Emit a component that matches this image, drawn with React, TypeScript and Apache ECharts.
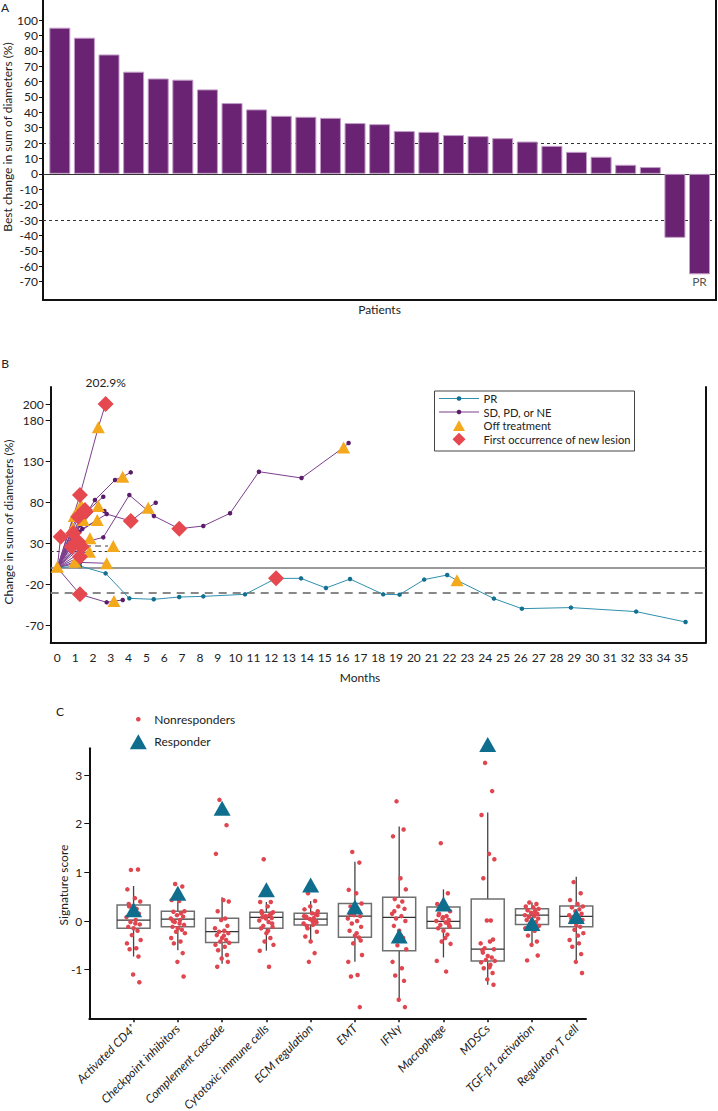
import React, { useEffect, useRef } from "react";
import * as echarts from "echarts";

const FONT = "Lato, 'Noto Sans', 'DejaVu Sans', sans-serif";
const TXT = "#222";

// ---------- Panel A: best change per patient ----------
const bestChange = [95.0, 88.5, 77.6, 66.4, 62.0, 61.2, 54.9, 46.0, 41.9, 37.7, 37.1, 36.4, 33.0, 32.3, 27.8, 27.3, 25.2, 24.5, 23.2, 21.0, 18.2, 14.3, 11.1, 5.9, 4.4, -41.6, -65.3];
const bestChangeTicks = [-70, -60, -50, -40, -30, -20, -10, 0, 10, 20, 30, 40, 50, 60, 70, 80, 90, 100];
const thresholdsA = [20, -30];
const lastBarLabel = "PR";

// ---------- Panel B: change over time ----------
const monthTicks = [0, 1, 2, 3, 4, 5, 6, 7, 8, 9, 10, 11, 12, 13, 14, 15, 16, 17, 18, 19, 20, 21, 22, 23, 24, 25, 26, 27, 28, 29, 30, 31, 32, 33, 34, 35];
const changeTicks = [-70, -20, 30, 80, 130, 180, 200];
const topClippedLabel = "202.9%";

const prPatient = [
  [0, 0], [1.27, 2.1], [2.71, -6.9], [4.04, -37.4], [5.41, -38.6], [6.84, -35.8], [8.19, -35.0], [10.53, -32.5],
  [12.27, -13.0], [13.67, -13.0], [15.07, -24.8], [16.42, -13.8], [18.28, -32.5], [19.2, -32.9], [20.58, -14.5],
  [21.87, -8.9], [22.42, -15.4], [24.49, -37.7], [26.06, -50.0], [28.81, -48.7], [32.47, -53.6], [35.24, -66.3],
];

const sdPatients = [
  [[0, 0], [1.27, 88.8], [2.3, 171.5], [2.71, 200]],
  [[0, 0], [1.35, 56], [2.11, 82.7], [3.24, 107.2], [3.67, 111.2], [4.12, 116.5]],
  [[0, 0], [1.3, 62], [2.58, 86.8]],
  [[0, 0], [1.3, 30], [2.58, 37.1], [4.04, 88.8], [5.42, 63.2], [6.84, 47.6], [8.19, 51], [9.69, 66.5], [11.31, 117.3], [13.7, 109.6], [16.06, 147], [16.34, 152.3]],
  [[0, 0], [1.4, 47.3], [2.77, 65.6], [4.12, 57], [5.1, 73.3], [5.52, 79.4]],
  [[0, 0], [1.59, 68.4], [2.64, 69.3]],
  [[0, 0], [1.33, 76.6]],
  [[0, 0], [1.3, 52], [2.3, 75.4]],
  [[0, 0], [1.25, 44], [2.24, 58.3]],
  [[0, 0], [0.95, 63.2]],
  [[0, 0], [1.18, 62.3]],
  [[0, 0], [1.27, 28], [1.83, 35.9]],
  [[0, 0], [1.27, 18], [1.8, 19.5]],
  [[0, 0], [0.19, 37.9]],
  [[0, 0], [0.9, 42]],
  [[0, 0], [0.81, 25.7]],
  [[0, 0], [1.18, 31.8]],
  [[0, 0], [1.37, 25.7]],
  [[0, 0], [1.27, 13.4]],
  [[0, 0], [1.27, 6.5], [2.77, 5.4]],
  [[0, 0], [1.27, -32.5], [2.77, -42.3], [3.18, -40.7], [3.67, -39.5]],
  [[0, 0], [0.86, 48.1]],
  [[0, 0], [0.99, 7.3]],
  [[0, 0], [1.46, 58.3]],
  [[0, 0], [1.55, 70.4]],
];
const shortDashed = [[1.56, 26.5], [2.84, 26.5]];

const offTreatment = [
  [0, 1.2], [0.86, 48.1], [0.95, 63.2], [0.99, 7.3], [1.33, 76.6], [1.46, 58.3], [1.8, 19.5], [1.83, 35.9],
  [2.24, 58.3], [2.3, 75.4], [2.3, 171.5], [2.77, 5.4], [3.14, 26.5], [3.18, -40.7], [3.67, 111.2], [5.1, 73.3],
  [16.06, 147], [22.42, -15.4],
];
const newLesion = [
  [0.19, 37.9], [0.81, 25.7], [0.9, 42], [1.18, 31.8], [1.18, 62.3], [1.27, 13.4], [1.27, 88.8], [1.27, -32.5],
  [1.37, 25.7], [1.55, 70.4], [1.59, 68.4], [2.71, 200], [4.12, 57], [6.84, 47.6], [12.27, -13],
];
const thresholdsB = { zero: 0, pd: 20, pr: -30 };

// ---------- Panel C: signature scores ----------
const signatures = ["Activated CD4\u207A", "Checkpoint inhibitors", "Complement cascade", "Cytotoxic immune cells", "ECM regulation", "EMT", "IFN\u03B3", "Macrophage", "MDSCs", "TGF-\u03B21 activation", "Regulatory T cell"];
const scoreTicks = [-1, 0, 1, 2, 3];
// [lower whisker, Q1, median, Q3, upper whisker]
const boxStats = [
  [-0.73, -0.15, 0.02, 0.33, 0.72],
  [-0.6, -0.12, 0.04, 0.2, 0.43],
  [-0.88, -0.44, -0.22, 0.055, 0.49],
  [-0.61, -0.15, 0.075, 0.18, 0.39],
  [-0.42, -0.08, 0.04, 0.16, 0.41],
  [-0.84, -0.335, 0.1, 0.36, 1.22],
  [-1.62, -0.61, 0.075, 0.49, 1.94],
  [-0.75, -0.15, -0.006, 0.29, 0.65],
  [-1.31, -0.82, -0.58, 0.45, 2.23],
  [-0.49, -0.07, 0.12, 0.25, 0.38],
  [-0.84, -0.12, 0.097, 0.31, 0.91],
];
const responder = [0.23, 0.57, 2.32, 0.64, 0.74, 0.29, -0.31, 0.35, 3.63, -0.05, 0.09];
const nonresponders = [
  [1.05, 1.06, 0.65, 0.47, 0.4, 0.3, 0.25, 0.2, 0.15, 0.08, 0.02, -0.02, -0.07, -0.12, -0.15, -0.2, -0.29, -0.39, -0.46, -0.56, -0.58, -0.73, -1.1, -1.26, 0.35, -0.05],
  [0.76, 0.71, 0.43, 0.41, 0.2, 0.19, 0.16, 0.12, 0.09, 0.05, 0.02, -0.02, -0.08, -0.12, -0.15, -0.18, -0.22, -0.25, -0.35, -0.42, -0.46, -0.66, -0.84, -1.14, 0.0, -0.05],
  [2.49, 1.97, 1.38, 0.43, 0.4, 0.2, 0.05, 0.02, -0.1, -0.15, -0.2, -0.22, -0.25, -0.29, -0.35, -0.39, -0.42, -0.45, -0.49, -0.53, -0.6, -0.7, -0.77, -0.84, -0.94, -0.3],
  [1.27, 0.39, 0.39, 0.3, 0.18, 0.16, 0.12, 0.1, 0.06, 0.01, -0.02, -0.1, -0.12, -0.15, -0.25, -0.35, -0.42, -0.49, -0.61, -0.94, 0.08, 0.15, 0.05, -0.05, 0.2, -0.2],
  [0.57, 0.41, 0.24, 0.16, 0.12, 0.09, 0.06, 0.04, -0.01, -0.05, -0.08, -0.15, -0.22, -0.32, -0.42, -0.66, -0.84, 0.2, 0.1, 0.02, -0.1, 0.14, 0.3, -0.03, 0.07, 0.0],
  [1.42, 1.2, 0.64, 0.57, 0.36, 0.3, 0.2, 0.12, 0.1, 0.05, 0.0, -0.05, -0.12, -0.2, -0.3, -0.34, -0.46, -0.7, -0.84, -1.11, -1.14, -1.77, 0.25, -0.4, 0.15, -0.25],
  [2.46, 1.88, 1.74, 0.88, 0.65, 0.45, 0.4, 0.3, 0.25, 0.15, 0.1, 0.05, 0.0, -0.1, -0.2, -0.35, -0.5, -0.58, -0.84, -0.97, -1.12, -1.23, -1.62, -1.77, 0.2, -0.3],
  [1.6, 0.57, 0.35, 0.3, 0.2, 0.15, 0.1, 0.05, 0.02, 0.0, -0.03, -0.08, -0.12, -0.15, -0.2, -0.28, -0.42, -0.47, -0.82, -1.04, 0.25, -0.05, 0.08, -0.1, 0.12, -0.35],
  [3.25, 2.67, 2.18, 1.38, 1.27, 0.88, 0.01, 0.01, -0.38, -0.46, -0.42, -0.56, -0.58, -0.6, -0.72, -0.75, -0.8, -0.82, -0.85, -0.9, -0.97, -1.07, -1.2, -1.31, -0.65, -0.95],
  [0.38, 0.35, 0.3, 0.28, 0.25, 0.22, 0.2, 0.17, 0.15, 0.12, 0.1, 0.08, 0.05, 0.02, 0.0, -0.02, -0.05, -0.1, -0.15, -0.2, -0.3, -0.42, -0.49, -0.71, -0.81, 0.13],
  [0.8, 0.57, 0.43, 0.35, 0.3, 0.28, 0.24, 0.2, 0.15, 0.12, 0.1, 0.08, 0.02, -0.02, -0.08, -0.12, -0.18, -0.25, -0.39, -0.46, -0.53, -0.68, -0.84, -1.07, 0.05, -0.3],
];
// fixed horizontal jitter pattern (category units) for the dot strip
const JITTER = [-0.06, 0.1, -0.14, 0.03, 0.15, -0.1, 0.07, -0.02, 0.12, -0.16, 0.05, -0.07, 0.14, -0.12, 0.0, 0.09, -0.04, 0.16, -0.15, 0.06, -0.09, 0.11, -0.01, 0.13, -0.11, 0.04];

// ---------- colours ----------
const BAR = "#6a2372";
const PURPLE_LINE = "#7b3f8d";
const PURPLE_DOT = "#5b1d6b";
const TEAL_LINE = "#2f8fae";
const TEAL_DOT = "#137090";
const ORANGE = "#f4a81c";
const RED = "#e5484f";
const DOT_RED = "#e0464f";
const RESP = "#0f6d8e";

const axisLine = { show: true, onZero: false, lineStyle: { color: "#111", width: 2 } };
const labelStyle = { fontFamily: FONT, fontSize: 12, color: TXT };

function txt(text: string, x: number, y: number, extra: any = {}) {
  return {
    type: "text",
    x,
    y,
    rotation: extra.rotation || 0,
    silent: true,
    style: {
      text,
      fill: TXT,
      fontSize: extra.fontSize || 12,
      fontFamily: FONT,
      align: extra.align || "center",
      verticalAlign: "middle",
    },
  };
}

function buildOption(): any {
  const catPositions = signatures.map((_, i) => i + 1);
  const frameRight = (gridIndex: number, min: number, max: number) => ({
    gridIndex,
    type: "value",
    position: "right",
    min,
    max,
    axisLine,
    axisTick: { show: false },
    axisLabel: { show: false },
    splitLine: { show: false },
  });

  const legendB = [
    { type: "rect", shape: { x: 434.5, y: 391, width: 200, height: 60 }, style: { fill: "#fff", stroke: "#444", lineWidth: 1 } },
    { type: "line", shape: { x1: 439, y1: 398.5, x2: 479, y2: 398.5 }, style: { stroke: TEAL_LINE, lineWidth: 1 } },
    { type: "circle", shape: { cx: 459, cy: 398.5, r: 2.3 }, style: { fill: TEAL_DOT } },
    { type: "line", shape: { x1: 439, y1: 412, x2: 479, y2: 412 }, style: { stroke: PURPLE_LINE, lineWidth: 1 } },
    { type: "circle", shape: { cx: 459, cy: 412, r: 2.3 }, style: { fill: PURPLE_DOT } },
    { type: "polygon", shape: { points: [[459, 420.2], [465, 431], [453, 431]] }, style: { fill: ORANGE } },
    { type: "polygon", shape: { points: [[459, 432.8], [465.5, 439.3], [459, 445.8], [452.5, 439.3]] }, style: { fill: RED } },
    txt("PR", 483.5, 398.5, { align: "left", fontSize: 11.2 }),
    txt("SD, PD, or NE", 483.5, 412, { align: "left", fontSize: 11.2 }),
    txt("Off treatment", 483.5, 425.7, { align: "left", fontSize: 11.2 }),
    txt("First occurrence of new lesion", 483.5, 439.3, { align: "left", fontSize: 11.2 }),
  ];

  const legendC = [
    { type: "circle", shape: { cx: 138.3, cy: 719.3, r: 2.3 }, style: { fill: DOT_RED } },
    txt("Nonresponders", 154.3, 719.3, { align: "left" }),
    { type: "polygon", shape: { points: [[138.3, 734.2], [146.8, 749.2], [129.8, 749.2]] }, style: { fill: RESP } },
    txt("Responder", 154.3, 741.7, { align: "left" }),
  ];

  return {
    animation: false,
    backgroundColor: "#fff",
    textStyle: { fontFamily: FONT },
    grid: [
      { left: 43, top: 0, width: 673, height: 300, outerBoundsMode: "none" },
      { left: 50.7, top: 387, width: 655, height: 255.7, outerBoundsMode: "none" },
      { left: 89.3, top: 748.3, width: 496.7, height: 270, outerBoundsMode: "none" },
    ],
    xAxis: [
      {
        gridIndex: 0, type: "value", min: 0.317, max: 27.67,
        axisLine, axisTick: { show: false }, axisLabel: { show: false }, splitLine: { show: false },
        name: "Patients", nameLocation: "middle", nameGap: 3,
        nameTextStyle: { ...labelStyle, verticalAlign: "top" },
      },
      {
        gridIndex: 1, type: "value", min: -0.37, max: 36.37,
        axisLine, axisTick: { show: false },
        axisLabel: { customValues: monthTicks, margin: 9, ...labelStyle },
        splitLine: { show: false },
      },
      {
        gridIndex: 2, type: "value", min: 0, max: 11.22,
        axisLine,
        axisTick: { show: true, customValues: catPositions, length: 4, lineStyle: { color: "#111", width: 1.5 } },
        axisLabel: {
          customValues: catPositions,
          formatter: (v: number) => signatures[Math.round(v) - 1] || "",
          rotate: 45, margin: 8, fontStyle: "italic", ...labelStyle,
        },
        splitLine: { show: false },
      },
    ],
    yAxis: [
      {
        gridIndex: 0, type: "value", min: -82, max: 113, axisLine,
        axisTick: { show: true, customValues: bestChangeTicks, length: 4, lineStyle: { color: "#111", width: 1 } },
        axisLabel: { customValues: bestChangeTicks, margin: 5, ...labelStyle },
        splitLine: { show: false },
      },
      frameRight(0, -82, 113),
      {
        gridIndex: 1, type: "value", min: -91.6, max: 220.8, axisLine,
        axisTick: { show: true, customValues: changeTicks, length: 5, lineStyle: { color: "#111", width: 1 } },
        axisLabel: { customValues: changeTicks, margin: 7, ...labelStyle },
        splitLine: { show: false },
      },
      frameRight(1, -91.6, 220.8),
      {
        gridIndex: 2, type: "value", min: -2.0, max: 3.55, axisLine,
        axisTick: { show: true, customValues: scoreTicks, length: 5, lineStyle: { color: "#111", width: 1 } },
        axisLabel: { customValues: scoreTicks, margin: 7, ...labelStyle },
        splitLine: { show: false },
      },
    ],
    series: [
      // ----- A -----
      {
        type: "bar", xAxisIndex: 0, yAxisIndex: 0,
        data: bestChange.map((v, i) => [i + 1, v]),
        barWidth: 21, z: 2,
        itemStyle: { color: BAR, borderColor: "#c29cc8", borderWidth: 1 },
        markLine: {
          silent: true, symbol: ["none", "none"], z: 1, label: { show: false },
          data: [
            { yAxis: 0, lineStyle: { type: "solid", color: "#333", width: 1 } },
            ...thresholdsA.map((t) => ({ yAxis: t, lineStyle: { type: [3, 3], color: "#333", width: 1 } })),
          ],
        },
      },
      {
        type: "scatter", xAxisIndex: 0, yAxisIndex: 0, silent: true,
        data: [[bestChange.length, bestChange[bestChange.length - 1]]],
        symbolSize: 0,
        label: { show: true, formatter: lastBarLabel, position: "bottom", distance: 1, ...labelStyle },
      },
      // ----- B -----
      {
        type: "line", xAxisIndex: 1, yAxisIndex: 2, data: prPatient, z: 3,
        symbol: "circle", symbolSize: 4.5, showAllSymbol: true,
        lineStyle: { color: TEAL_LINE, width: 1 }, itemStyle: { color: TEAL_DOT },
        markLine: {
          silent: true, symbol: ["none", "none"], z: 1, label: { show: false },
          data: [
            { yAxis: thresholdsB.zero, lineStyle: { type: "solid", color: "#777", width: 1.5 } },
            { yAxis: thresholdsB.pd, lineStyle: { type: [3, 3], color: "#333", width: 1.2 } },
            { yAxis: thresholdsB.pr, lineStyle: { type: [8, 6], color: "#888", width: 2 } },
          ],
        },
      },
      ...sdPatients.map((p) => ({
        type: "line", xAxisIndex: 1, yAxisIndex: 2, data: p, z: 2,
        symbol: "circle", symbolSize: 4.5, showAllSymbol: true,
        lineStyle: { color: PURPLE_LINE, width: 1 }, itemStyle: { color: PURPLE_DOT },
      })),
      {
        type: "line", xAxisIndex: 1, yAxisIndex: 2, data: shortDashed, symbol: "none", z: 2,
        lineStyle: { color: "#999", width: 2, type: [6, 4] },
      },
      {
        type: "scatter", xAxisIndex: 1, yAxisIndex: 2, data: offTreatment, z: 4,
        symbol: "triangle", symbolSize: [13, 12], itemStyle: { color: ORANGE, opacity: 1 },
      },
      {
        type: "scatter", xAxisIndex: 1, yAxisIndex: 2, z: 5, clip: false,
        symbol: "diamond", symbolSize: 16, itemStyle: { color: RED, opacity: 1 },
        data: newLesion.map((p) =>
          p[1] >= 200
            ? { value: p, label: { show: true, formatter: topClippedLabel, position: "top", distance: 8, ...labelStyle } }
            : p
        ),
      },
      // ----- C -----
      {
        type: "custom", xAxisIndex: 2, yAxisIndex: 4, z: 2,
        data: boxStats.map((s, i) => [i + 1, ...s]),
        encode: { x: 0, y: [1, 2, 3, 4, 5] },
        renderItem: (params: any, api: any) => {
          const x = api.value(0);
          const lo = api.coord([x, api.value(1)]);
          const q1 = api.coord([x, api.value(2)]);
          const md = api.coord([x, api.value(3)]);
          const q3 = api.coord([x, api.value(4)]);
          const hi = api.coord([x, api.value(5)]);
          const h = 16.5;
          const wh = { stroke: "#444", lineWidth: 1.3 };
          return {
            type: "group",
            children: [
              { type: "line", shape: { x1: lo[0], y1: lo[1], x2: q1[0], y2: q1[1] }, style: wh },
              { type: "line", shape: { x1: q3[0], y1: q3[1], x2: hi[0], y2: hi[1] }, style: wh },
              { type: "rect", shape: { x: q3[0] - h, y: q3[1], width: 2 * h, height: q1[1] - q3[1] }, style: { fill: "none", stroke: "#6f6f6f", lineWidth: 1.5 } },
              { type: "line", shape: { x1: md[0] - h, y1: md[1], x2: md[0] + h, y2: md[1] }, style: { stroke: "#333", lineWidth: 1.3 } },
            ],
          };
        },
      },
      {
        type: "scatter", xAxisIndex: 2, yAxisIndex: 4, z: 3,
        symbol: "circle", symbolSize: 4.5, itemStyle: { color: DOT_RED, opacity: 1 },
        data: nonresponders.flatMap((vals, i) => vals.map((v, j) => [i + 1 + JITTER[j % JITTER.length], v])),
      },
      {
        type: "scatter", xAxisIndex: 2, yAxisIndex: 4, z: 4, clip: false,
        symbol: "triangle", symbolSize: [17, 15], itemStyle: { color: RESP, opacity: 1 },
        data: responder.map((v, i) => [i + 1, v]),
      },
    ],
    graphic: [
      txt("A", 5, 7),
      txt("B", 5, 363),
      txt("C", 60, 711),
      txt("Best change in sum of diameters (%)", 7, 137, { rotation: Math.PI / 2 }),
      txt("Change in sum of diameters (%)", 8, 522, { rotation: Math.PI / 2 }),
      txt("Months", 360, 677),
      txt("Signature score", 63, 885, { rotation: Math.PI / 2 }),
      ...legendB,
      ...legendC,
    ],
  };
}

export default function App() {
  const ref = useRef<HTMLDivElement>(null);
  useEffect(() => {
    if (!ref.current) return;
    const chart = echarts.init(ref.current, null, { renderer: "svg" });
    chart.setOption(buildOption());
    return () => chart.dispose();
  }, []);
  return (
    <div
      ref={ref}
      style={{ position: "absolute", left: 0, top: 0, width: 718, height: 1111, background: "#fff" }}
    />
  );
}
